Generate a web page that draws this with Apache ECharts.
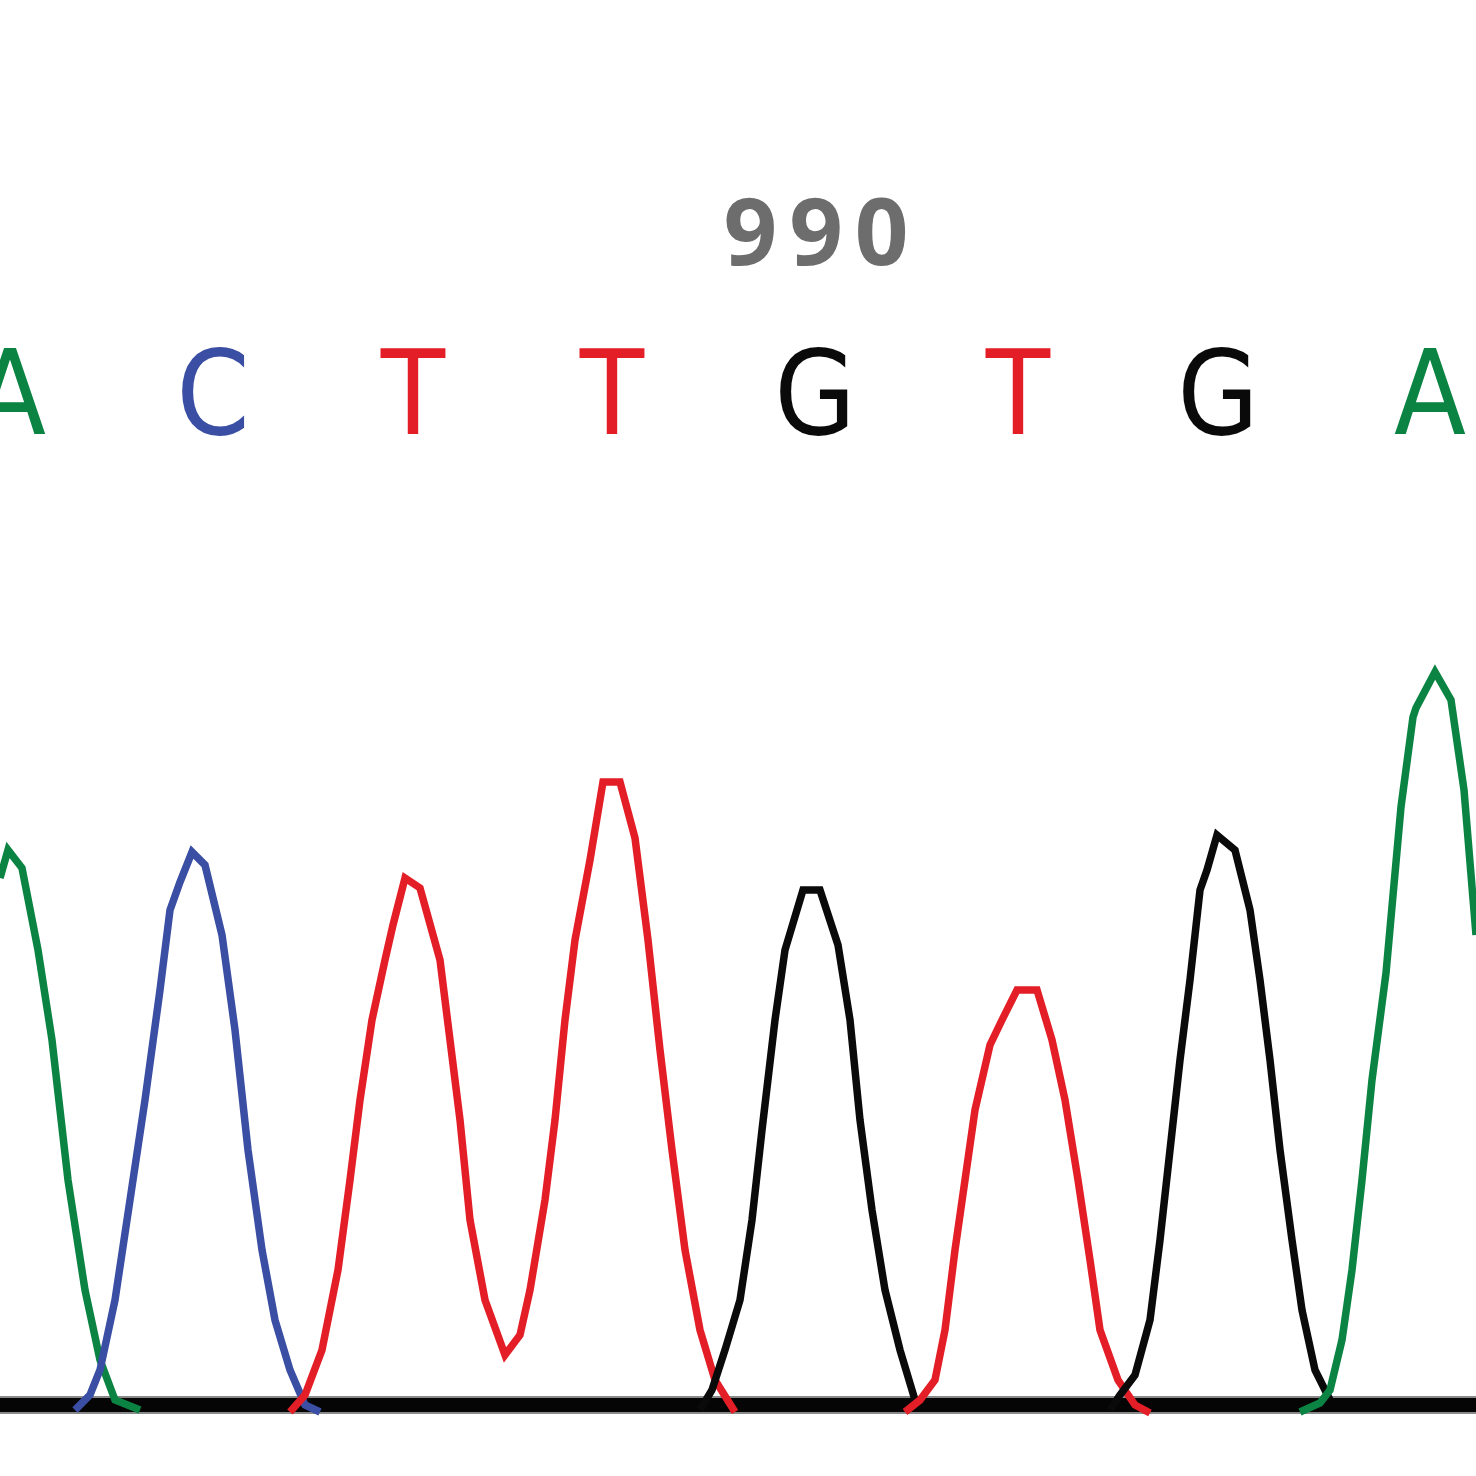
<!DOCTYPE html>
<html>
<head>
<meta charset="utf-8">
<script src="https://cdn.jsdelivr.net/npm/echarts@6/dist/echarts.min.js"></script>
<style>html,body{margin:0;padding:0;background:#fff}#c{width:1476px;height:1476px}</style>
</head>
<body>
<div id="c"></div>
<script>
// Base calls and their positions (scan units)
const baseCalls = ['A', 'C', 'T', 'T', 'G', 'T', 'G', 'A'];
const basePositions = [10, 213, 413, 612, 815, 1018, 1218, 1430];
const positionLabel = ['9', '9', '0'];
const positionLabelX = 816;

// Trace intensities: [scan position, signal]
const traceA1 = [[0,527],[8,555],[22,537],[38,455],[52,365],[68,225],[85,115],[100,45],[115,5],[140,-5]];
const traceC1 = [[75,-5],[90,10],[100,35],[115,105],[130,205],[145,305],[160,415],[170,495],[180,523],[192,553],[205,540],[222,470],[235,375],[248,255],[262,155],[275,85],[290,35],[305,0],[320,-7]];
const traceT1 = [[290,-7],[305,10],[322,55],[338,135],[350,225],[360,305],[372,385],[385,445],[393,480],[405,527],[420,517],[440,445],[450,365],[460,285],[470,185],[485,105],[505,50],[520,70],[530,115],[545,205],[555,285],[565,385],[575,465],[590,545],[603,623],[620,623],[635,567],[648,465],[660,355],[672,255],[685,155],[700,75],[715,25],[735,-7]];
const traceG1 = [[700,-5],[712,15],[725,55],[740,105],[752,185],[762,275],[775,385],[785,455],[803,515],[820,515],[838,460],[850,385],[860,285],[872,195],[885,115],[900,55],[915,5]];
const traceT2 = [[905,-7],[920,5],[935,25],[945,75],[955,155],[965,225],[975,295],[990,360],[1002,385],[1017,415],[1037,415],[1052,365],[1065,305],[1078,225],[1090,145],[1100,75],[1118,25],[1135,0],[1150,-8]];
const traceG2 = [[1110,-5],[1120,10],[1135,30],[1150,85],[1160,165],[1170,255],[1180,345],[1190,425],[1200,515],[1207,535],[1217,570],[1235,555],[1250,495],[1260,425],[1270,345],[1280,255],[1292,165],[1302,95],[1315,35],[1330,5]];
const traceA2 = [[1300,-7],[1320,2],[1330,15],[1342,65],[1352,135],[1362,225],[1372,325],[1386,432],[1401,598],[1413,688],[1416,697],[1435,733],[1451,705],[1464,615],[1476,470]];

const baselineValue = 0;

const COL = { A: '#0b8443', C: '#3a4ea3', T: '#e31e26', G: '#0a0a0a' };

const chart = echarts.init(document.getElementById('c'), null, { renderer: 'canvas' });

function trace(data, color) {
  return {
    type: 'line', data: data, symbol: 'none', smooth: false, z: 5,
    lineStyle: { color: color, width: 7.5, join: 'miter', cap: 'butt' },
    animation: false, silent: true
  };
}

const letterData = baseCalls.map((b, i) => ({
  value: [basePositions[i], 1001],
  label: { color: COL[b] }
}));

chart.setOption({
  animation: false,
  grid: { left: 0, right: 0, top: 0, bottom: 0 },
  xAxis: { type: 'value', min: 0, max: 1476, show: false },
  yAxis: { type: 'value', min: -71, max: 1405, show: false },
  series: [
    { type: 'line', data: [[0, baselineValue], [1476, baselineValue]], symbol: 'none', z: 1,
      lineStyle: { color: '#8a8a8a', width: 18 }, silent: true },
    { type: 'line', data: [[0, baselineValue], [1476, baselineValue]], symbol: 'none', z: 2,
      lineStyle: { color: '#050505', width: 14 }, silent: true },
    trace(traceA1, COL.A),
    trace(traceC1, COL.C),
    trace(traceT1, COL.T),
    trace(traceG1, COL.G),
    trace(traceT2, COL.T),
    trace(traceG2, COL.G),
    trace(traceA2, COL.A),
    { type: 'scatter', data: letterData, symbolSize: 0, z: 10, silent: true,
      itemStyle: { opacity: 1 },
      label: { show: true, position: 'inside', formatter: p => baseCalls[p.dataIndex],
        fontFamily: '"Liberation Sans Narrow", "DejaVu Sans Condensed", "Liberation Sans", sans-serif',
        fontSize: 117, fontWeight: 'normal' } },
    { type: 'scatter', data: [[positionLabelX, 1167]], symbolSize: 0, z: 10, silent: true,
      itemStyle: { opacity: 1 },
      label: { show: true, position: 'inside',
        formatter: positionLabel.map(d => '{d|' + d + '}').join(''),
        rich: { d: { color: '#6d6d6d', fontFamily: '"Open Sans", sans-serif', fontSize: 94, fontWeight: 'bold', padding: [0, 6, 0, 6] } } } }
  ]
});
</script>
</body>
</html>
